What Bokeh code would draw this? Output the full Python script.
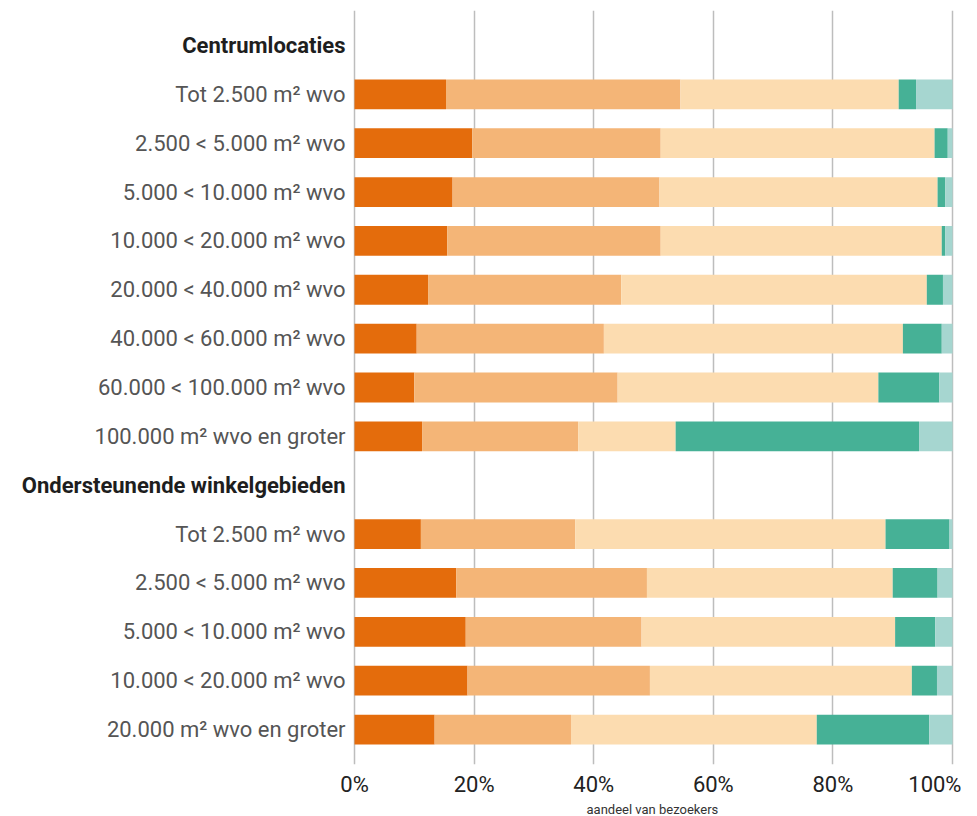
from bokeh.plotting import figure
from bokeh.models import Range1d, FixedTicker, ColumnDataSource, Title
from bokeh.core.properties import value
from bokeh.embed import file_html
from bokeh.resources import INLINE

# ---- data ----
group_names = ["Centrumlocaties", "Ondersteunende winkelgebieden"]
centrum_cats = ["Tot 2.500 m² wvo", "2.500 < 5.000 m² wvo", "5.000 < 10.000 m² wvo",
                "10.000 < 20.000 m² wvo", "20.000 < 40.000 m² wvo", "40.000 < 60.000 m² wvo",
                "60.000 < 100.000 m² wvo", "100.000 m² wvo en groter"]
ond_cats = ["Tot 2.500 m² wvo", "2.500 < 5.000 m² wvo", "5.000 < 10.000 m² wvo",
            "10.000 < 20.000 m² wvo", "20.000 m² wvo en groter"]

# shares (%) per series, centrum rows then ondersteunend rows
centrum_s1 = [15.3, 19.7, 16.4, 15.5, 12.3, 10.4, 10.0, 11.3]
centrum_s2 = [39.2, 31.5, 34.6, 35.7, 32.3, 31.3, 34.0, 26.1]
centrum_s3 = [36.5, 45.8, 46.5, 47.0, 51.1, 50.0, 43.6, 16.3]
centrum_s4 = [2.9, 2.2, 1.3, 0.6, 2.7, 6.5, 10.2, 40.7]
centrum_s5 = [6.1, 0.8, 1.2, 1.2, 1.6, 1.8, 2.2, 5.6]

ond_s1 = [11.1, 17.0, 18.6, 18.9, 13.4]
ond_s2 = [25.8, 31.9, 29.4, 30.5, 22.8]
ond_s3 = [51.9, 41.1, 42.4, 43.8, 41.1]
ond_s4 = [10.7, 7.5, 6.7, 4.2, 18.8]
ond_s5 = [0.5, 2.5, 2.9, 2.6, 3.9]

x_ticks = [0, 20, 40, 60, 80, 100]
x_tick_labels = ["0%", "20%", "40%", "60%", "80%", "100%"]
x_axis_title = "aandeel van bezoekers"

colors = ["#e46c0c", "#f4b577", "#fcdcb0", "#46b196", "#a6d6d0"]

# ---- layout of rows ----
header_y, header_txt = [], []
row_y, row_txt = [], []
series = [[] for _ in range(5)]
pos = 0
for gname, cats, vals in [
    (group_names[0], centrum_cats, [centrum_s1, centrum_s2, centrum_s3, centrum_s4, centrum_s5]),
    (group_names[1], ond_cats, [ond_s1, ond_s2, ond_s3, ond_s4, ond_s5]),
]:
    header_y.append(pos)
    header_txt.append(gname)
    pos += 1
    for i, c in enumerate(cats):
        row_y.append(pos)
        row_txt.append(c)
        for k in range(5):
            series[k].append(vals[k][i])
        pos += 1

n_pos = pos

# frame: x 8..954 px, 0% at 354px, 100% at 952px
X0, X1 = -57.86, 100.33
p = figure(width=961, height=816, output_backend="svg", toolbar_location=None,
           x_range=Range1d(X0, X1), y_range=Range1d(n_pos - 1 + 0.715, -0.715),
           min_border_left=8, min_border_right=7, min_border_top=10, min_border_bottom=30)
p.outline_line_color = None
p.background_fill_color = "white"
p.border_fill_color = "white"

# stacked bars
left = [0.0] * len(row_y)
for k in range(5):
    right = [l + v for l, v in zip(left, series[k])]
    src = ColumnDataSource(dict(y=row_y, left=left, right=right))
    p.hbar(y="y", left="left", right="right", height=0.61, source=src,
           fill_color=colors[k], line_color=None)
    left = right

# category labels (inside the frame, left of 0%)
p.text(x=[-1.5] * len(row_y), y=row_y, text=row_txt, text_align="right",
       text_baseline="middle", text_font=value("Roboto"), text_font_size="22px",
       text_color="#555555")
p.text(x=[-1.5] * len(header_y), y=header_y, text=header_txt, text_align="right",
       text_baseline="middle", text_font=value("Roboto"), text_font_size="22px",
       text_font_style="bold", text_color="#1e1e1e")

# axes
p.yaxis.visible = False
p.ygrid.grid_line_color = None
ax = p.xaxis[0]
ax.ticker = FixedTicker(ticks=x_ticks)
ax.major_label_overrides = {t: l for t, l in zip(x_ticks, x_tick_labels)}
ax.axis_line_color = None
ax.major_tick_line_color = None
ax.minor_tick_line_color = None
ax.major_tick_out = 0
ax.major_tick_in = 0
ax.major_label_standoff = 7
ax.major_label_text_font = "Roboto"
ax.major_label_text_font_size = "22px"
ax.major_label_text_color = "#222222"

# axis title centred under the 0-100% part of the frame (left-aligned with offset)
t = Title(text=x_axis_title, align="left", offset=578,
          text_font="Roboto", text_font_size="13px", text_font_style="normal",
          text_color="#333333", standoff=0)
p.add_layout(t, "below")

p.xgrid.ticker = FixedTicker(ticks=x_ticks)
p.xgrid.grid_line_color = "#bdbdbd"
p.xgrid.grid_line_width = 1.5

open("out.html", "w").write(file_html(p, INLINE))
